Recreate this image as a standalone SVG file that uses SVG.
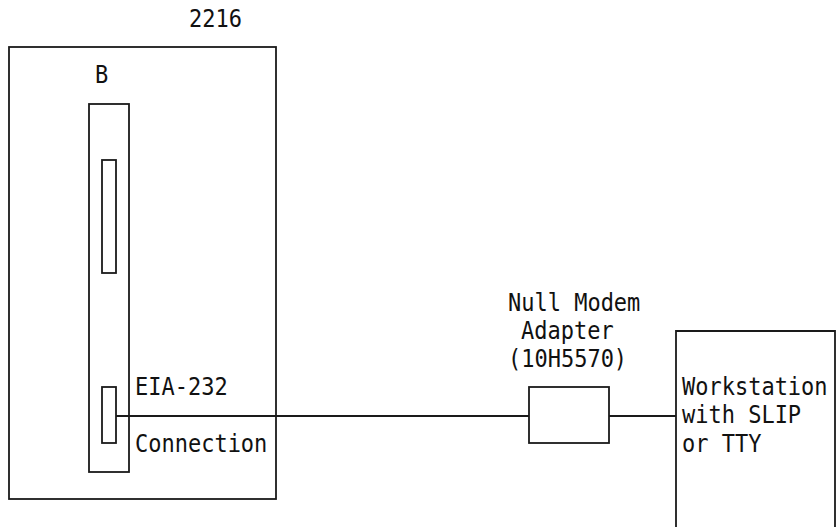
<svg xmlns="http://www.w3.org/2000/svg" width="836" height="527" viewBox="0 0 836 527">
<style>
.b{fill:none;stroke:#1a1a1a;stroke-width:1.8}
.t{font-family:"DejaVu Sans Mono","Liberation Mono",monospace;font-size:22px;fill:#111}
</style>
<rect width="836" height="527" fill="#fff"/>
<g id="unit2216">
<rect class="b" x="9" y="47" width="267" height="452"/>
<text class="t" transform="translate(189,27) scale(1,1.15)">2216</text>
</g>
<g id="cardB">
<rect class="b" x="89" y="104" width="40" height="368"/>
<text class="t" transform="translate(95,83) scale(1,1.15)">B</text>
</g>
<g id="slotUpper">
<rect class="b" x="102" y="160" width="14" height="113"/>
</g>
<g id="slotEIA">
<rect class="b" x="102" y="387" width="14" height="56"/>
<text class="t" transform="translate(135,395) scale(1,1.15)">EIA-232</text>
<text class="t" transform="translate(135,452) scale(1,1.15)">Connection</text>
</g>
<g id="adapter">
<rect class="b" x="529" y="387" width="80" height="56"/>
<text class="t" transform="translate(508,311) scale(1,1.15)">Null Modem</text>
<text class="t" transform="translate(521,339) scale(1,1.15)">Adapter</text>
<text class="t" transform="translate(508,367) scale(1,1.15)">(10H5570)</text>
</g>
<g id="workstation">
<path class="b" d="M676,540 V331 H835 V540"/>
<text class="t" transform="translate(682,395) scale(1,1.15)">Workstation</text>
<text class="t" transform="translate(682,423) scale(1,1.15)">with SLIP</text>
<text class="t" transform="translate(682,452) scale(1,1.15)">or TTY</text>
</g>
<g id="connectors">
<line class="b" x1="116" y1="416" x2="529" y2="416"/>
<line class="b" x1="609" y1="416" x2="676" y2="416"/>
</g>
</svg>
